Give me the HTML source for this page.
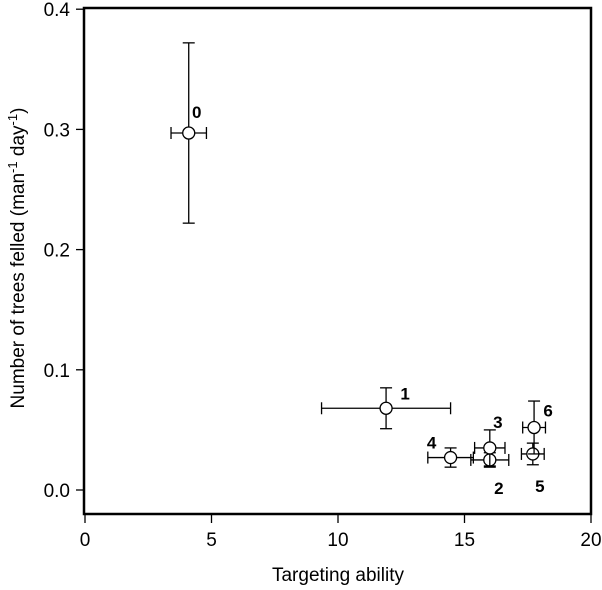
<!DOCTYPE html>
<html><head><meta charset="utf-8"><style>
body{margin:0;background:#fff}
svg text{font-family:"Liberation Sans",Arial,sans-serif}
</style></head><body>
<svg id="chart" width="602" height="585" xmlns="http://www.w3.org/2000/svg">
<rect x="84" y="8" width="507" height="506" fill="none" stroke="#000" stroke-width="2.5"/>
<g id="axes"></g>
<g id="marks"></g>
<text x="338" y="581" font-size="19" text-anchor="middle">Targeting ability</text>
<text transform="translate(24,258) rotate(-90)" font-size="19" text-anchor="middle">Number of trees felled (man<tspan dy="-7" font-size="13">-1</tspan><tspan dy="7"> day</tspan><tspan dy="-7" font-size="13">-1</tspan><tspan dy="7">)</tspan></text>
</svg>
<script>
const labels=["0","1","2","3","4","5","6"];
const xVals=[4.1,11.9,16.0,16.0,14.45,17.7,17.75];
const xErr=[0.7,2.55,0.75,0.6,0.9,0.45,0.45];
const yVals=[0.297,0.068,0.025,0.035,0.027,0.030,0.052];
const yErr=[0.075,0.017,0.006,0.015,0.008,0.009,0.022];
const xTicks=[0,5,10,15,20];
const yTicks=[0.0,0.1,0.2,0.3,0.4];
const labelOff=[[8,-21],[19,-15],[9,28],[8,-26],[-19,-15],[7,32],[14,-17]];
const NS="http://www.w3.org/2000/svg";
const X=v=>85+v*(591-85)/20;
const Y=v=>490-v*1202;
function mk(tag,at,parent){const e=document.createElementNS(NS,tag);for(const k in at)e.setAttribute(k,at[k]);parent.appendChild(e);return e;}
const axes=document.getElementById('axes'),marks=document.getElementById('marks');
xTicks.forEach(t=>{
 const l=mk('line',{x1:X(t),x2:X(t),y1:515,y2:523,stroke:'#000','stroke-width':1.3},axes);
 
 
 const tx=mk('text',{x:X(t),y:546,'font-size':19,'text-anchor':'middle'},axes);tx.textContent=t;
 
 
});
yTicks.forEach(t=>{
 const l=mk('line',{x1:76,x2:83,y1:Y(t),y2:Y(t),stroke:'#000','stroke-width':1.3},axes);
 
 
 const tx=mk('text',{x:70,y:Y(t)+7,'font-size':19,'text-anchor':'end'},axes);tx.textContent=t.toFixed(1);
 
 
});
labels.forEach((lb,i)=>{
 const g=mk('g',{stroke:'#000','stroke-width':1.3,fill:'none'},marks);
 
 
 const cx=X(xVals[i]),cy=Y(yVals[i]);
 const x1=X(xVals[i]-xErr[i]),x2=X(xVals[i]+xErr[i]),y1=Y(yVals[i]+yErr[i]),y2=Y(yVals[i]-yErr[i]);
 mk('line',{x1:x1,x2:x2,y1:cy,y2:cy},g);
 mk('line',{x1:x1,x2:x1,y1:cy-6,y2:cy+6},g);
 mk('line',{x1:x2,x2:x2,y1:cy-6,y2:cy+6},g);
 mk('line',{x1:cx,x2:cx,y1:y1,y2:y2},g);
 mk('line',{x1:cx-6,x2:cx+6,y1:y1,y2:y1},g);
 mk('line',{x1:cx-6,x2:cx+6,y1:y2,y2:y2},g);
 mk('circle',{cx:cx,cy:cy,r:6,fill:'#fff'},g);
 const t=mk('text',{x:cx+labelOff[i][0],y:cy+labelOff[i][1]+6,'font-size':17,'font-weight':'bold','text-anchor':'middle',stroke:'none',fill:'#000'},marks);
 t.textContent=lb;
 
 
});
</script>
</body></html>
